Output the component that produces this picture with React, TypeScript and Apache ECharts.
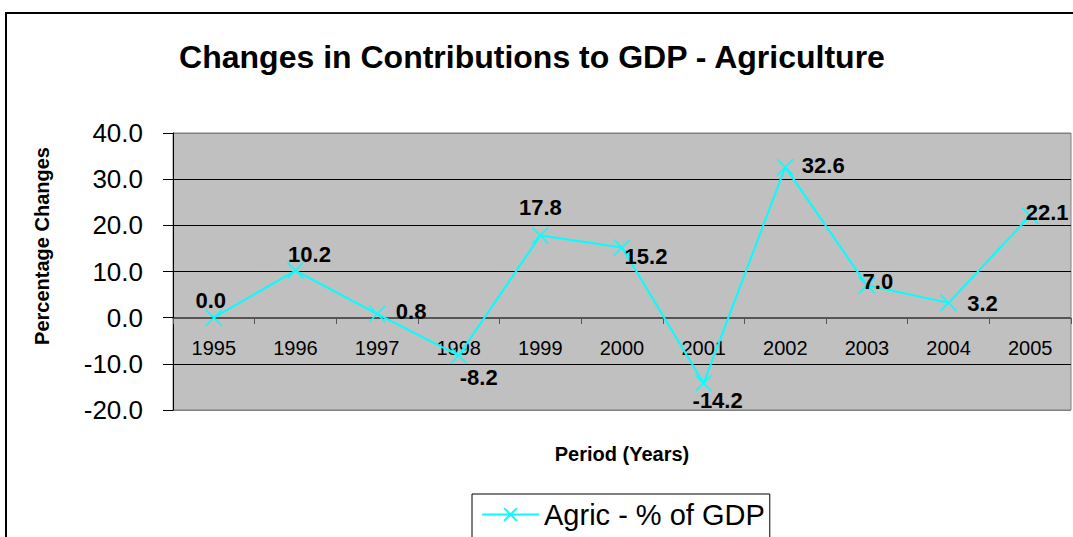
import React, { useEffect, useRef } from "react";
import * as echarts from "echarts";

const years = ["1995", "1996", "1997", "1998", "1999", "2000", "2001", "2002", "2003", "2004", "2005"];
const agricValues = [0.0, 10.2, 0.8, -8.2, 17.8, 15.2, -14.2, 32.6, 7.0, 3.2, 22.1];
const labelOffsets: number[][] = [
  [-3, -17], [14, -16], [34, -2], [20, 22], [0, -28], [24, 9],
  [14, 17], [38, -2], [11, -4], [34, 1], [17, -3],
];
const yAxisTitle = "Percentage Changes";

const FONT = "'Liberation Sans', Arial, sans-serif";

export default function App() {
  const ref = useRef<HTMLDivElement>(null);
  useEffect(() => {
    if (!ref.current) return;
    const chart = echarts.init(ref.current, null, { renderer: "svg" });
    chart.setOption({
      animation: false,
      backgroundColor: "#ffffff",
      textStyle: { fontFamily: FONT },
      title: {
        text: "Changes in Contributions to GDP - Agriculture",
        left: 527,
        top: 36,
        textAlign: "center",
        textStyle: { fontSize: 32, fontWeight: "bold", color: "#000", fontFamily: FONT },
      },
      graphic: [
        {
          type: "rect",
          shape: { x: 6, y: 13, width: 1100, height: 600 },
          style: { fill: "none", stroke: "#000", lineWidth: 2 },
          silent: true,
        },
        {
          type: "text",
          x: 42,
          y: 246,
          rotation: Math.PI / 2,
          style: {
            text: yAxisTitle,
            fill: "#000",
            font: `bold 20px ${FONT}`,
            textAlign: "center",
            textVerticalAlign: "middle",
          },
          silent: true,
        },
      ],
      legend: {
        left: 472,
        top: 494,
        data: ["Agric - % of GDP"],
        borderColor: "#000",
        borderWidth: 1,
        borderRadius: 0,
        padding: [6, 5, 20, 9],
        itemWidth: 57,
        itemHeight: 16,
        itemGap: 8,
        textStyle: { fontSize: 29, color: "#000", fontFamily: FONT },
      },
      grid: {
        left: 173,
        right: 2,
        top: 133,
        bottom: 127,
        outerBoundsMode: "none",
        containLabel: false,
        show: true,
        backgroundColor: "#C0C0C0",
        borderColor: "#808080",
        borderWidth: 1,
      },
      xAxis: {
        type: "category",
        data: years,
        boundaryGap: true,
        name: "Period (Years)",
        nameLocation: "middle",
        nameGap: 126,
        nameTextStyle: { fontSize: 20, fontWeight: "bold", color: "#000", fontFamily: FONT },
        offset: -92,
        axisLine: { onZero: false, lineStyle: { color: "#555", width: 1 } },
        axisTick: { show: true, interval: 0, length: 6, lineStyle: { color: "#555" } },
        axisLabel: { fontSize: 20, color: "#000", margin: 20, interval: 0, fontFamily: FONT },
        splitLine: { show: false },
      },
      yAxis: {
        type: "value",
        min: -20,
        max: 40,
        interval: 10,
        axisLine: { show: true, lineStyle: { color: "#000", width: 1 } },
        axisTick: { show: true, length: 10, lineStyle: { color: "#000" } },
        axisLabel: {
          fontSize: 26,
          color: "#000",
          margin: 30,
          fontFamily: FONT,
          formatter: (v: number) => v.toFixed(1),
        },
        splitLine: {
          show: true,
          lineStyle: {
            color: ["#808080", "#000", "#555", "#000", "#000", "#000", "#808080"],
            width: 1,
          },
        },
      },
      series: [
        {
          name: "Agric - % of GDP",
          type: "line",
          data: agricValues.map((v, i) => ({
            value: v,
            label: { offset: labelOffsets[i] },
          })),
          symbol: "path://M0,0L10,10M10,0L0,10",
          symbolSize: 16,
          showAllSymbol: true,
          lineStyle: { color: "#00FFFF", width: 2 },
          itemStyle: { color: "#00FFFF", borderColor: "#00FFFF", borderWidth: 1.5 },
          label: {
            show: true,
            position: "inside",
            fontSize: 22,
            fontWeight: "bold",
            color: "#000",
            fontFamily: FONT,
            formatter: (p: any) => Number(p.value).toFixed(1),
          },
        },
      ],
    });
    return () => chart.dispose();
  }, []);
  return (
    <div
      ref={ref}
      style={{ position: "fixed", left: 0, top: 0, width: 1073, height: 537 }}
    />
  );
}
